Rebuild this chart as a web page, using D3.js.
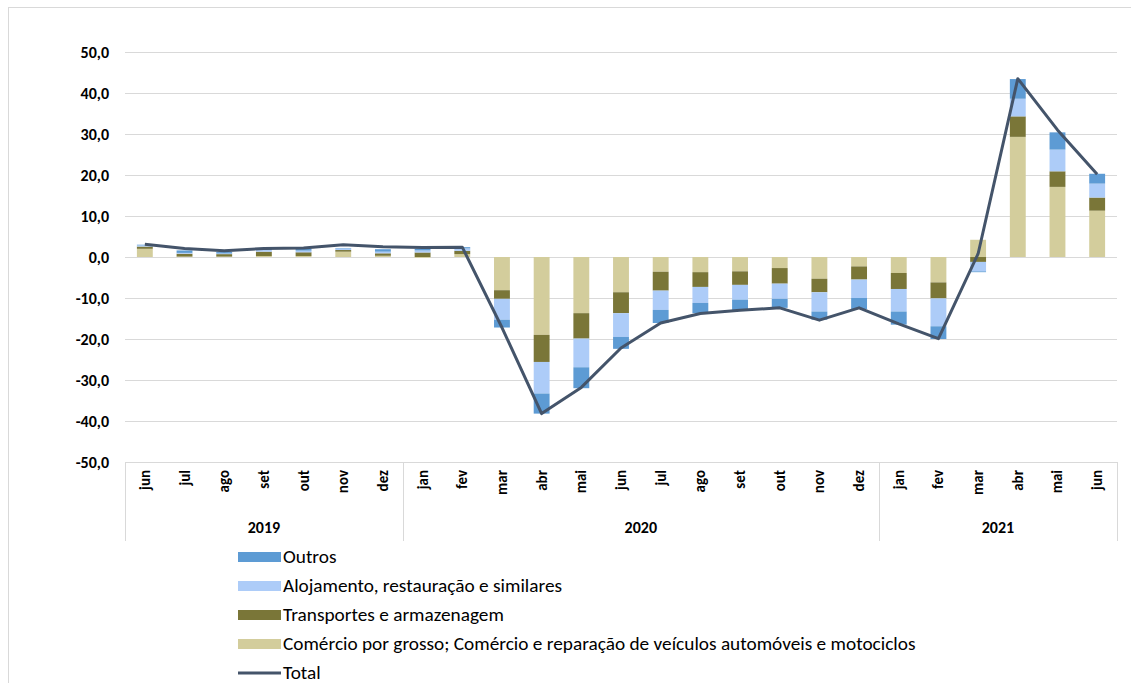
<!DOCTYPE html>
<html>
<head>
<meta charset="utf-8">
<script src="https://cdn.jsdelivr.net/npm/d3@7"></script>
<style>
  html, body { margin: 0; padding: 0; background: #fff; }
  svg { display: block; font-family: Carlito, Lato, "Liberation Sans", sans-serif; }
</style>
</head>
<body>
<svg id="chart" width="1131" height="683"></svg>
<script>
const months = ["jun","jul","ago","set","out","nov","dez","jan","fev","mar","abr","mai","jun","jul","ago","set","out","nov","dez","jan","fev","mar","abr","mai","jun"];
const years = ["2019","2020","2021"];
const yearCounts = [7, 12, 6];

const comercio    = [2.0, 0.1, 0.1, 0.25, 0.25, 1.3, 0.3, -0.2, 0.7, -8.1, -19.0, -13.7, -8.6, -3.6, -3.7, -3.5, -2.7, -5.3, -2.3, -3.9, -6.2, 4.2, 29.3, 17.1, 11.3];
const transportes = [0.55, 0.7, 0.6, 1.05, 0.9, 0.4, 0.6, 1.1, 0.8, -2.1, -6.6, -6.2, -5.1, -4.6, -3.6, -3.3, -3.8, -3.3, -3.2, -3.9, -3.9, -1.2, 5.0, 3.8, 3.2];
const alojamento  = [0.3, 0.2, 0.15, 0.4, 0.4, 0.4, 0.4, 0.5, 0.6, -5.1, -7.7, -7.0, -5.8, -4.7, -3.9, -3.6, -3.7, -4.7, -4.5, -5.5, -6.8, -2.3, 4.3, 5.3, 3.4];
const outros      = [0.15, 0.6, 0.35, 0.3, 0.4, 0.1, 0.6, 0.4, 0.3, -1.9, -4.9, -5.1, -2.9, -3.2, -2.5, -2.6, -2.2, -2.0, -2.7, -3.2, -3.1, -0.2, 4.8, 4.2, 2.4];
const total       = [3.1, 2.1, 1.5, 2.1, 2.2, 3.0, 2.5, 2.3, 2.4, -17.2, -38.2, -31.8, -22.2, -16.1, -13.8, -13.0, -12.4, -15.4, -12.4, -16.3, -19.9, 0.8, 43.5, 31.0, 20.2];

const yTicks = [-50, -40, -30, -20, -10, 0, 10, 20, 30, 40, 50];

const seriesNames = ["Comércio por grosso; Comércio e reparação de veículos automóveis e motociclos",
                     "Transportes e armazenagem",
                     "Alojamento, restauração e similares",
                     "Outros"];
const seriesKeys = ["comercio", "transportes", "alojamento", "outros"];
const colors = { comercio: "#D3CD9C", transportes: "#7A7638", alojamento: "#ADCCF8", outros: "#5D9BD4" };
const lineColor = "#44546A";

const rows = months.map((m, i) => ({
  i, comercio: comercio[i], transportes: transportes[i], alojamento: alojamento[i], outros: outros[i]
}));

const svg = d3.select("#chart");
const pLeft = 125, pRight = 1117, pTop = 52, pBottom = 462;

// chart border (top and left visible)
svg.append("line").attr("x1", 8).attr("x2", 1131).attr("y1", 7.5).attr("y2", 7.5).attr("stroke", "#d9d9d9");
svg.append("line").attr("x1", 8.5).attr("x2", 8.5).attr("y1", 7).attr("y2", 683).attr("stroke", "#d9d9d9");

const x = d3.scaleBand().domain(d3.range(months.length)).range([pLeft, pRight]).paddingInner(0.6).paddingOuter(0.3);
const y = d3.scaleLinear().domain([-50, 50]).range([pBottom, pTop]);

// gridlines
svg.append("g").selectAll("line").data(yTicks).join("line")
  .attr("x1", pLeft).attr("x2", pRight)
  .attr("y1", d => Math.round(y(d)) + 0.5).attr("y2", d => Math.round(y(d)) + 0.5)
  .attr("stroke", "#d9d9d9").attr("stroke-width", 1);

// y labels
const yAxis = d3.axisLeft(y).tickValues(yTicks).tickSize(0).tickPadding(16)
  .tickFormat(d => d3.format(".1f")(d).replace(".", ",").replace("−", "-"));
const yg = svg.append("g").attr("transform", `translate(${pLeft},0)`).call(yAxis);
yg.select(".domain").remove();
yg.selectAll("text").attr("font-size", 16).attr("font-weight", "bold").attr("fill", "#000")
  .attr("font-family", "Carlito, Lato, sans-serif");

// stacked bars
const stack = d3.stack().keys(seriesKeys).offset(d3.stackOffsetDiverging);
const stacked = stack(rows);
svg.append("g").selectAll("g").data(stacked).join("g")
  .attr("fill", s => colors[s.key])
  .selectAll("rect").data(s => s).join("rect")
  .attr("x", d => x(d.data.i))
  .attr("width", x.bandwidth())
  .attr("y", d => y(Math.max(d[0], d[1])))
  .attr("height", d => Math.abs(y(d[0]) - y(d[1])));

// total line
const line = d3.line().x((d, i) => x(i) + x.bandwidth() / 2).y(d => y(d));
svg.append("path").datum(total).attr("d", line)
  .attr("fill", "none").attr("stroke", lineColor).attr("stroke-width", 3).attr("stroke-linejoin", "round");

// category axis box
svg.append("line").attr("x1", pLeft).attr("x2", pRight).attr("y1", pBottom + 0.5).attr("y2", pBottom + 0.5).attr("stroke", "#d9d9d9");
const step = x.step();
let acc = 0;
const bounds = [0];
yearCounts.forEach(c => { acc += c; bounds.push(acc); });
svg.append("g").selectAll("line").data(bounds).join("line")
  .attr("x1", b => Math.round(pLeft + b * step) + 0.5).attr("x2", b => Math.round(pLeft + b * step) + 0.5)
  .attr("y1", pBottom).attr("y2", 541).attr("stroke", "#d9d9d9");

// month labels
svg.append("g").selectAll("text").data(months).join("text")
  .attr("transform", (d, i) => `translate(${x(i) + x.bandwidth() / 2 + 5},470) rotate(-90)`)
  .attr("text-anchor", "end")
  .attr("font-size", 15).attr("font-weight", "bold").attr("fill", "#000")
  .text(d => d);

// year labels
svg.append("g").selectAll("text").data(years).join("text")
  .attr("x", (d, k) => pLeft + (bounds[k] + bounds[k + 1]) / 2 * step)
  .attr("y", 533)
  .attr("text-anchor", "middle")
  .attr("font-size", 16).attr("font-weight", "bold").attr("fill", "#000")
  .text(d => d);

// legend
const legendItems = [
  { name: seriesNames[3], key: "outros" },
  { name: seriesNames[2], key: "alojamento" },
  { name: seriesNames[1], key: "transportes" },
  { name: seriesNames[0], key: "comercio" },
  { name: "Total", key: "total" }
];
const lg = svg.append("g");
legendItems.forEach((it, k) => {
  const cy = 557 + k * 29;
  if (it.key === "total") {
    lg.append("line").attr("x1", 238).attr("x2", 281).attr("y1", cy).attr("y2", cy)
      .attr("stroke", lineColor).attr("stroke-width", 3);
  } else {
    lg.append("rect").attr("x", 238).attr("y", cy - 5).attr("width", 43).attr("height", 10).attr("fill", colors[it.key]);
  }
  lg.append("text").attr("x", 283).attr("y", cy + 6).attr("font-size", 19.3).attr("fill", "#000").text(it.name);
});
</script>
</body>
</html>
